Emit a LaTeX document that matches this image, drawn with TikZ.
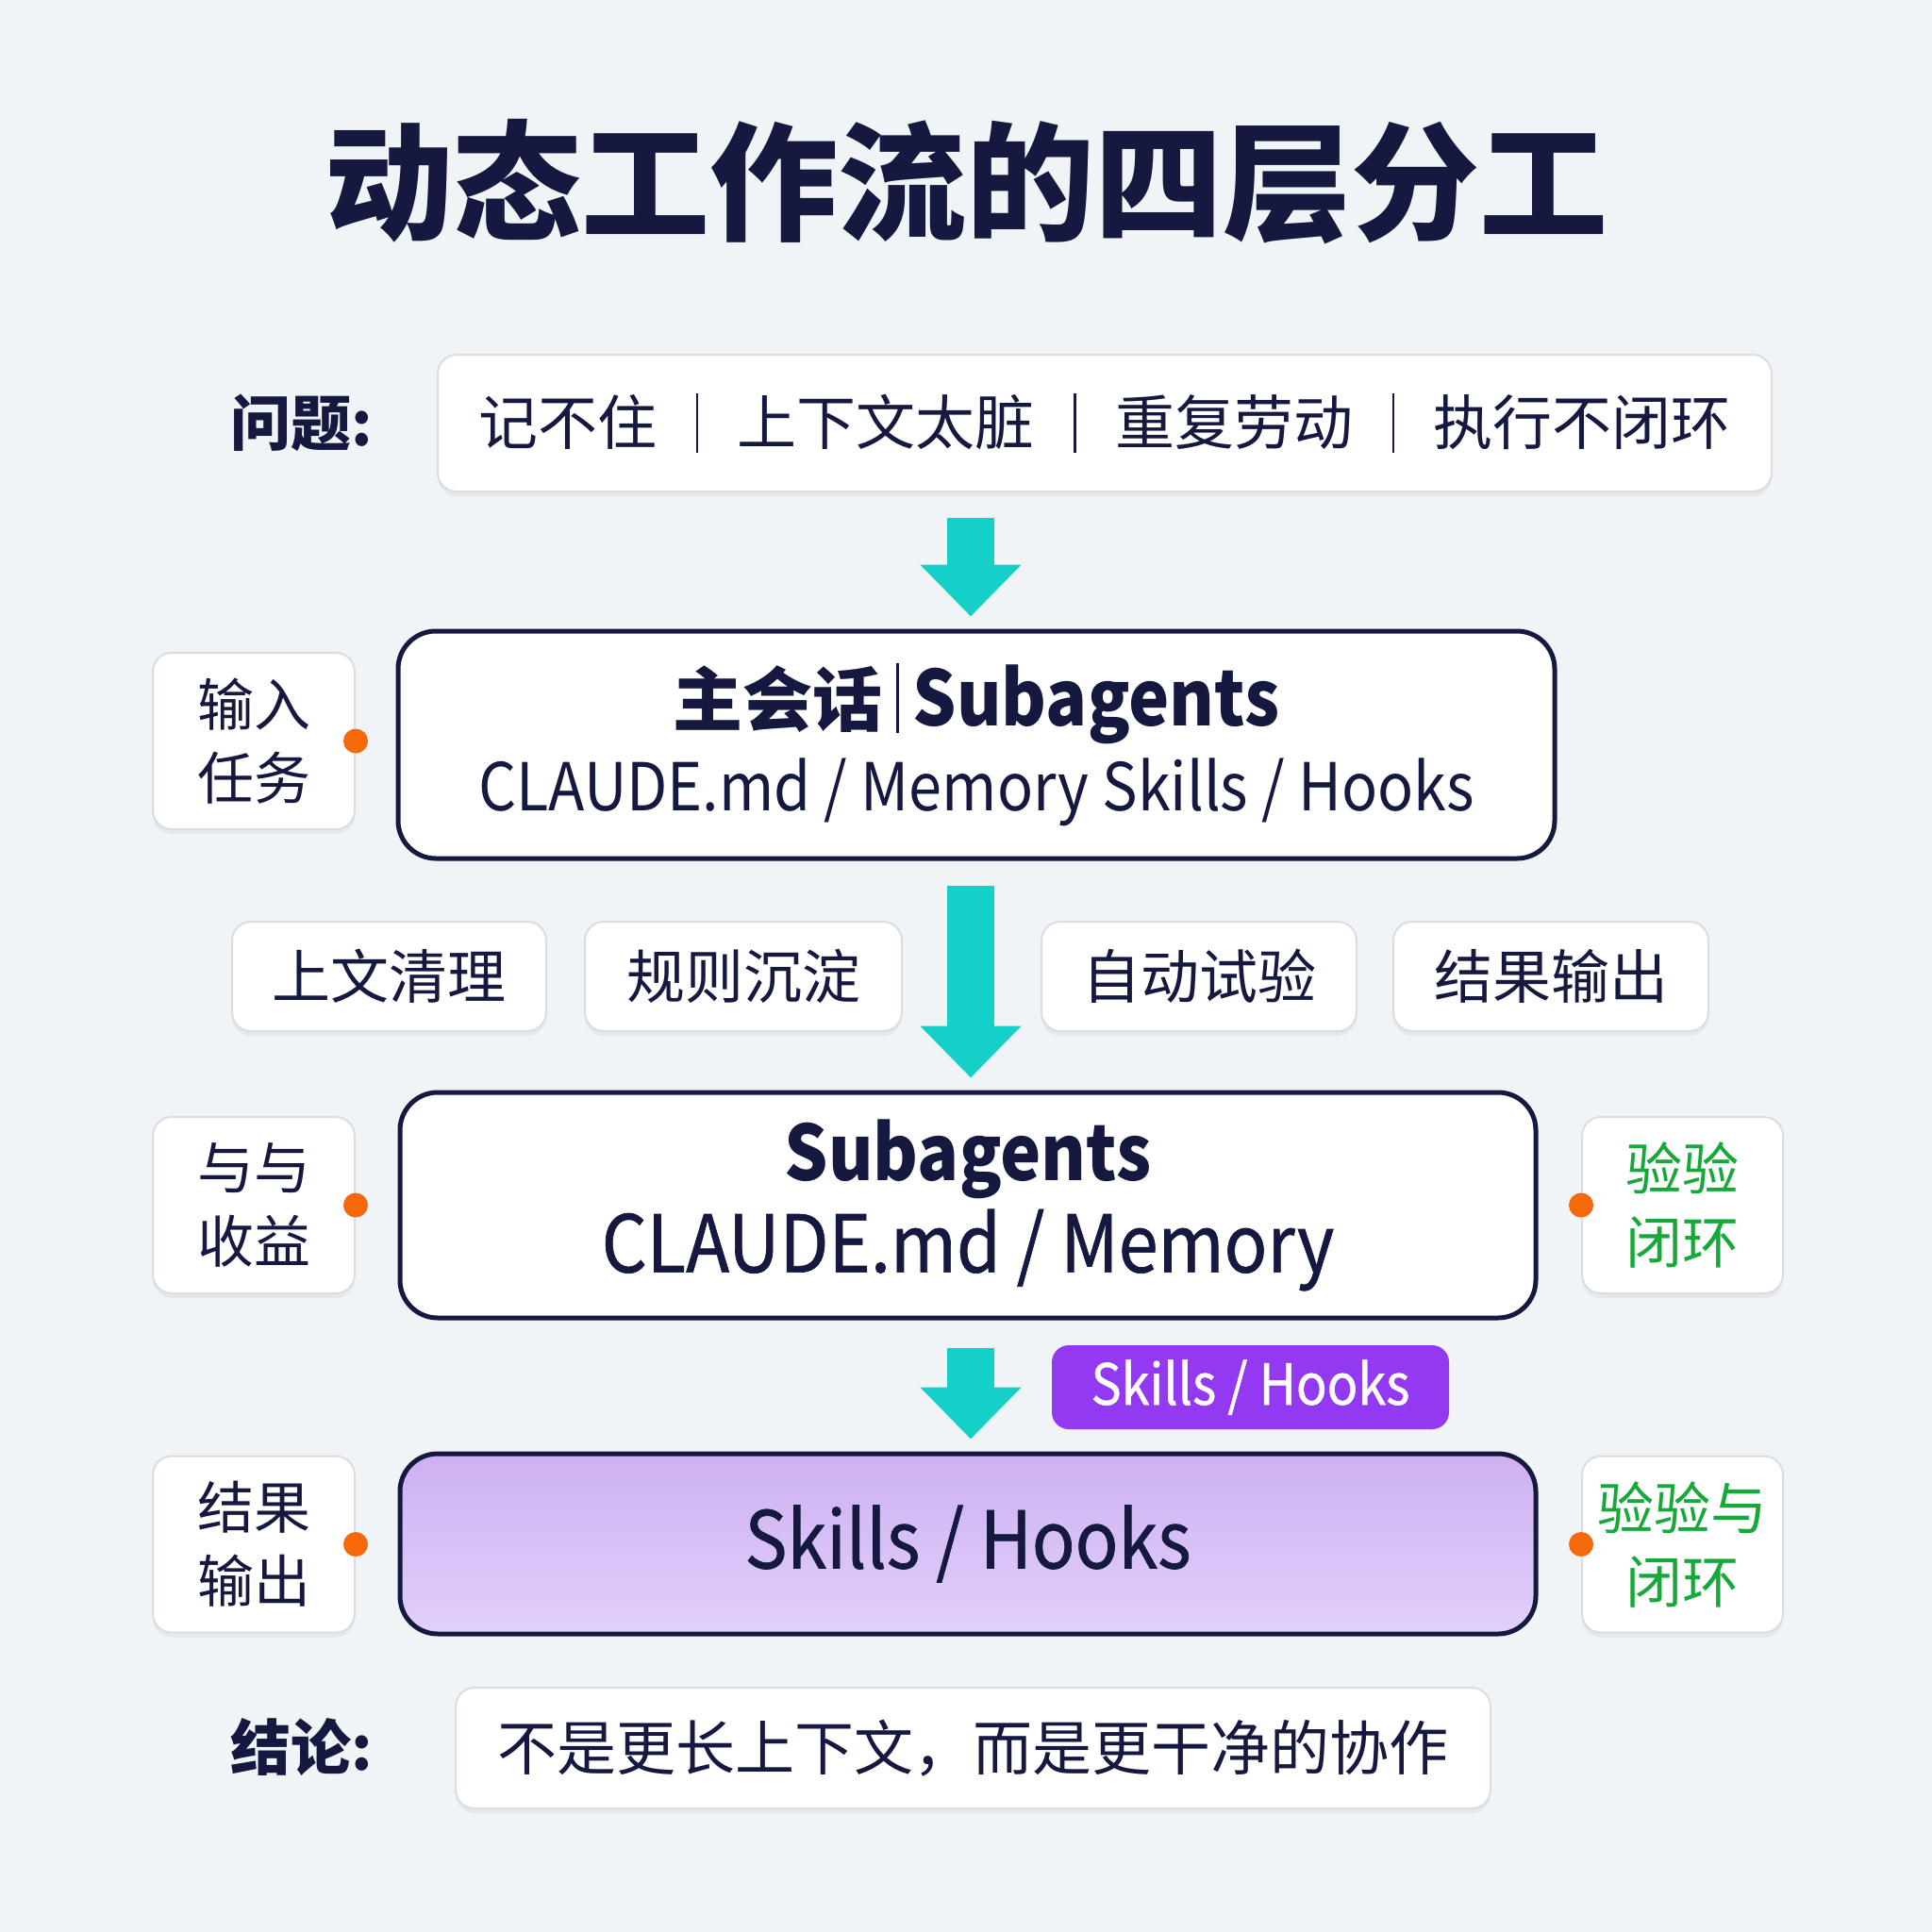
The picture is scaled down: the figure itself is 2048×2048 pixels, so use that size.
\documentclass[tikz,border=0pt]{standalone}
\usepackage{fontspec}
\setmainfont{Noto Sans CJK SC}
\newfontfamily\latinf[FakeStretch=0.9]{Noto Sans CJK SC}
\newfontfamily\latinm[FakeStretch=0.9,FakeBold=0.8]{Noto Sans CJK SC}
\usetikzlibrary{arrows.meta,shadows,calc}
\definecolor{bg}{HTML}{F1F4F7}
\definecolor{ink}{HTML}{15183F}
\definecolor{edge}{HTML}{DADDE2}
\definecolor{teal}{HTML}{15D0C8}
\definecolor{dotc}{HTML}{F5690A}
\definecolor{grn}{HTML}{16A838}
\definecolor{tagp}{HTML}{9339F2}
\definecolor{lavtop}{HTML}{CDB0F2}
\definecolor{lavbot}{HTML}{E1D0FB}
\newcommand{\fsz}[2]{\fontsize{#1}{#2}\selectfont}
\newcommand{\vbar}{\hspace{0.66em}{\color{ink}\rule[-0.14em]{2.5pt}{1.0em}}\hspace{0.66em}}
\tikzset{
  softbox/.style={draw=edge, line width=2pt, fill=white, rounded corners=20pt,
    drop shadow={opacity=0.10, shadow xshift=0pt, shadow yshift=-5pt},
    inner sep=0pt, text=ink, align=center},
  mainbox/.style={draw=ink, line width=5pt, fill=white, rounded corners=40pt,
    inner sep=0pt, text=ink, align=center},
  orangedot/.style={circle, fill=dotc, inner sep=0pt, minimum size=26pt},
  flowarrow/.style={draw=teal, line width=50pt, -{Triangle[width=104pt, length=55pt]}},
  sidetext/.style={font=\fsz{60}{78}},
  rowtext/.style={font=\fsz{62}{70}},
}
\begin{document}
\begin{tikzpicture}[x=1pt,y=-1pt]
\fill[bg] (0,0) rectangle (2048,2048);
\useasboundingbox (0,0) rectangle (2048,2048);

% title
\node[text=ink, font=\fsz{136}{150}\bfseries] (title) at (1024,193) {动态工作流的四层分工};

% problem row
\node[text=ink, font=\fsz{64}{70}\bfseries] (plabel) at (320,448) {问题:};
\node[softbox, minimum width=1414pt, minimum height=145pt, font=\fsz{63}{70}] (prob) at (1171,448.5)
  {记不住\vbar 上下文太脏\vbar 重复劳动\vbar 执行不闭环};

% layer 1
\node[mainbox, minimum width=1226pt, minimum height=241pt] (m1) at (1035,789.5)
  {{\fsz{74}{80}\bfseries 主会话}{\fsz{74}{80}\hspace{0.2em}{\rule[-0.1em]{2.5pt}{1em}}\hspace{0.2em}}{\latinf\fsz{81}{80}\bfseries Subagents}\\[14pt]
   {\latinf\fsz{70}{72}CLAUDE.md / Memory Skills / Hooks}};
\node[softbox, minimum width=214pt, minimum height=187pt, sidetext] (l1) at (269,785.5) {输入\\任务};
\node[orangedot] (d1) at (l1.east) {};

% row of four
\node[softbox, minimum width=333pt, minimum height=116pt, rowtext] (ra) at (412.5,1035) {上文清理};
\node[softbox, minimum width=336pt, minimum height=116pt, rowtext] (rb) at (788,1035) {规则沉淀};
\node[softbox, minimum width=334pt, minimum height=116pt, rowtext] (rc) at (1271,1035) {自动试验};
\node[softbox, minimum width=334pt, minimum height=116pt, rowtext] (rd) at (1644,1035) {结果输出};

% layer 2
\node[mainbox, minimum width=1204pt, minimum height=239pt] (m2) at (1026,1277.5)
  {{\latinf\fsz{81}{90}\bfseries Subagents}\\[10pt]{\latinm\fsz{84}{90}CLAUDE.md / Memory}};
\node[softbox, minimum width=214pt, minimum height=187pt, sidetext] (l2) at (269,1277.5) {与与\\收益};
\node[softbox, minimum width=213pt, minimum height=187pt, sidetext, text=grn] (r2) at (1783.5,1277.5) {验验\\闭环};
\node[orangedot] (d2) at (l2.east) {};
\node[orangedot] (d3) at (r2.west) {};

% tag
\node[fill=tagp, rounded corners=18pt, minimum width=421pt, minimum height=89pt, inner sep=0pt,
  text=white, font=\latinm\fsz{60}{70}] (tag) at (1325.5,1470.5) {Skills / Hooks};

% layer 3
\node[mainbox, top color=lavtop, bottom color=lavbot, minimum width=1204pt, minimum height=191pt,
  font=\latinm\fsz{84}{90}] (m3) at (1026,1636.5) {Skills / Hooks};
\node[softbox, minimum width=214pt, minimum height=187pt, sidetext] (l3) at (269,1637) {结果\\输出};
\node[softbox, minimum width=213pt, minimum height=187pt, sidetext, text=grn] (r3) at (1783.5,1637) {验验与\\闭环};
\node[orangedot] (d4) at (l3.east) {};
\node[orangedot] (d5) at (r3.west) {};

% conclusion
\node[text=ink, font=\fsz{64}{70}\bfseries] (clabel) at (320,1852) {结论:};
\node[softbox, minimum width=1097pt, minimum height=128pt, font=\fsz{63}{70}] (conc) at (1031.5,1853)
  {不是更长上下文，而是更干净的协作};

% arrows
\draw[flowarrow] ($(m1.north |- prob.south)+(-6,27)$) -- ($(m1.north)+(-6,-13)$);
\draw[flowarrow] ($(m1.south)+(-6,26)$) -- ($(m2.north)+(3,-13)$);
\draw[flowarrow] ($(m2.south)+(3,29)$) -- ($(m3.north)+(3,-13)$);
\end{tikzpicture}
\end{document}
